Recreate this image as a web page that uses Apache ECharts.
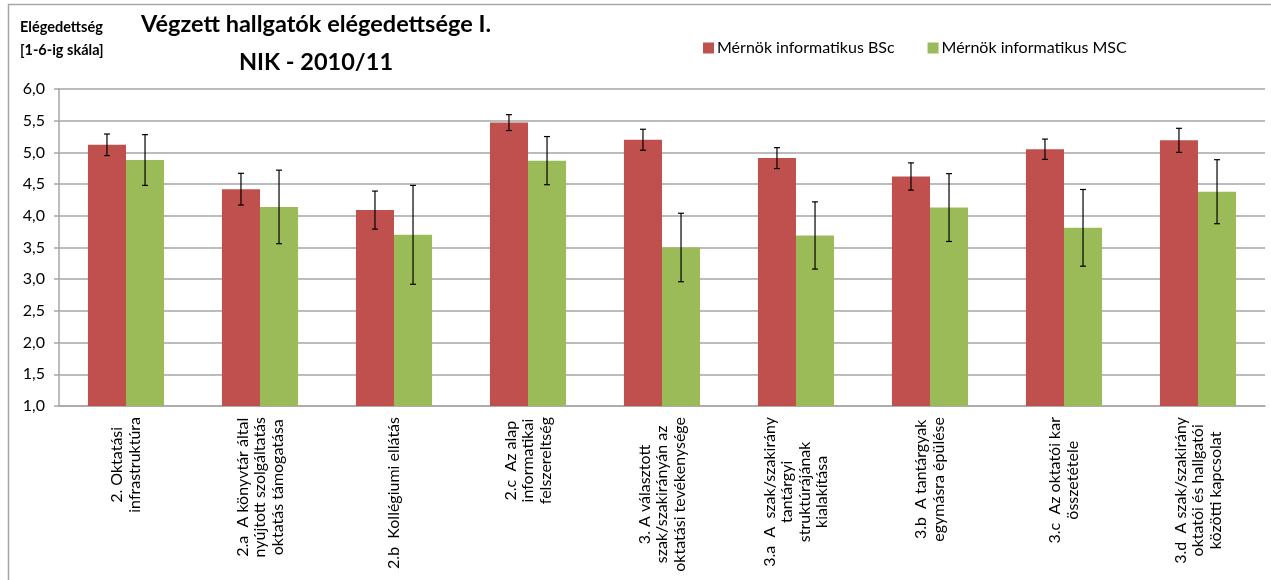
<!DOCTYPE html>
<html>
<head>
<meta charset="utf-8">
<script src="https://cdn.jsdelivr.net/npm/echarts@6/dist/echarts.min.js"></script>
<style>
html,body{margin:0;padding:0;background:#fff;}
#chart{width:1271px;height:580px;}
</style>
</head>
<body>
<div id="chart"></div>
<script>
const categories = [
  "2. Oktatási\ninfrastruktúra",
  "2.a  A könyvtár által\nnyújtott szolgáltatás\noktatás támogatása",
  "2.b  Kollégiumi ellátás",
  "2.c  Az alap\ninformatikai\nfelszereltség",
  "3. A választott\nszak/szakirányán az\noktatási tevékenysége",
  "3.a  A  szak/szakirány\ntantárgyi\nstruktúrájának\nkialakítása",
  "3.b  A tantárgyak\negymásra épülése",
  "3.c  Az oktatói kar\nösszetétele",
  "3.d  A szak/szakirány\noktatói és hallgatói\nközötti kapcsolat"
];
const seriesNames = ["Mérnök informatikus BSc", "Mérnök informatikus MSC"];
const bscValues = [5.12, 4.42, 4.09, 5.47, 5.20, 4.91, 4.62, 5.05, 5.19];
const bscErrors = [0.17, 0.25, 0.30, 0.125, 0.165, 0.165, 0.215, 0.16, 0.19];
const mscValues = [4.88, 4.14, 3.70, 4.87, 3.50, 3.69, 4.13, 3.81, 4.38];
const mscErrors = [0.40, 0.58, 0.78, 0.38, 0.54, 0.53, 0.535, 0.605, 0.505];
const yTicks = { min: 1, max: 6, interval: 0.5 };

const FONT = "Lato";
const BAR_FRAC = 0.284;

function errData(vals, errs) {
  return vals.map((v, i) => [i, v - errs[i], v + errs[i]]);
}
function errSeries(vals, errs, side) {
  return {
    type: 'custom',
    silent: true,
    z: 10,
    data: errData(vals, errs),
    encode: { x: 0, y: [1, 2] },
    renderItem: function (params, api) {
      const i = api.value(0);
      const lo = api.coord([i, api.value(1)]);
      const hi = api.coord([i, api.value(2)]);
      const cw = api.size([1, 0])[0];
      const x = lo[0] + side * cw * BAR_FRAC / 2;
      const cap = 3;
      const st = { stroke: '#000', lineWidth: 1.2 };
      return {
        type: 'group',
        children: [
          { type: 'line', shape: { x1: x, y1: lo[1], x2: x, y2: hi[1] }, style: st },
          { type: 'line', shape: { x1: x - cap, y1: lo[1], x2: x + cap, y2: lo[1] }, style: st },
          { type: 'line', shape: { x1: x - cap, y1: hi[1], x2: x + cap, y2: hi[1] }, style: st }
        ]
      };
    }
  };
}

const chart = echarts.init(document.getElementById('chart'), null, { renderer: 'canvas' });
chart.setOption({
  animation: false,
  backgroundColor: '#ffffff',
  textStyle: { fontFamily: FONT },
  graphic: [
    { type: 'rect', left: 6, top: 2, shape: { width: 1300, height: 620 },
      style: { fill: 'none', stroke: '#a6a6a6', lineWidth: 1.5 }, silent: true, z: -10 },
    { type: 'text', left: 20, top: 16,
      style: { text: 'Elégedettség\n[1-6-ig skála]', font: 'bold 14.5px ' + FONT, fill: '#000', lineHeight: 23, align: 'center' } }
  ],
  title: {
    text: 'Végzett hallgatók elégedettsége I.\nNIK - 2010/11',
    left: 311, top: 0, textAlign: 'center',
    textStyle: { fontFamily: FONT, fontWeight: 'bold', fontSize: 23.5, color: '#000', lineHeight: 38 }
  },
  legend: {
    left: 698, top: 35,
    itemWidth: 11, itemHeight: 11, itemGap: 33,
    icon: 'rect',
    textStyle: { fontFamily: FONT, fontSize: 16, color: '#000', padding: [0, 0, 0, -2] },
    data: seriesNames
  },
  grid: { left: 59, right: 6, top: 89, bottom: 174, containLabel: false },
  xAxis: {
    type: 'category',
    data: categories,
    axisLine: { lineStyle: { color: '#a6a6a6', width: 1.5 } },
    axisTick: { alignWithLabel: false, length: 5, lineStyle: { color: '#a6a6a6', width: 1.5 } },
    axisLabel: {
      interval: 0, rotate: 90, margin: 11, color: '#000', fontFamily: FONT, fontSize: 16,
      formatter: function (v) { return v.split('\n').map(l => '{c|' + l + '}').join('\n'); },
      rich: { c: { align: 'center', fontFamily: FONT, fontSize: 16, lineHeight: 17.5, color: '#000' } }
    }
  },
  yAxis: {
    type: 'value',
    min: yTicks.min, max: yTicks.max, interval: yTicks.interval,
    axisLine: { show: true, lineStyle: { color: '#a6a6a6', width: 1.5 } },
    axisTick: { show: true, length: 5, lineStyle: { color: '#a6a6a6', width: 1.5 } },
    splitLine: { lineStyle: { color: '#a6a6a6', width: 1.5 } },
    axisLabel: {
      color: '#000', fontFamily: FONT, fontSize: 16, margin: 14,
      formatter: v => v.toFixed(1).replace('.', ',')
    }
  },
  series: [
    { name: seriesNames[0], type: 'bar', data: bscValues, barWidth: '28.4%', barGap: '0%',
      itemStyle: { color: '#C0504D' } },
    { name: seriesNames[1], type: 'bar', data: mscValues, barWidth: '28.4%', barGap: '0%',
      itemStyle: { color: '#9BBB59' } },
    errSeries(bscValues, bscErrors, -1),
    errSeries(mscValues, mscErrors, 1)
  ]
});
</script>
</body>
</html>
